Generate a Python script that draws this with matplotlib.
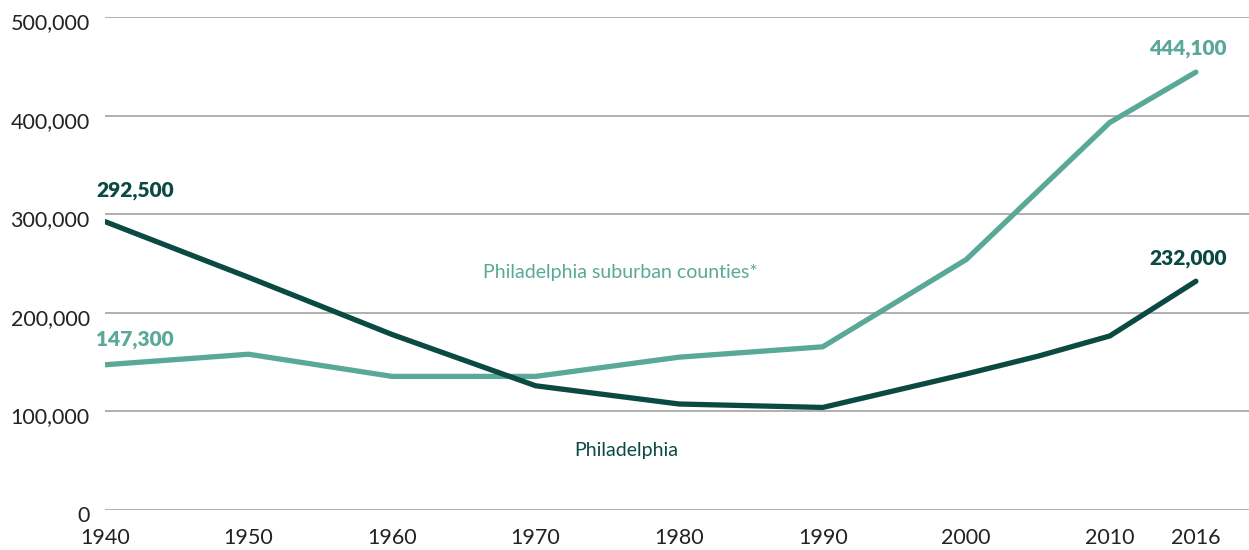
import matplotlib
matplotlib.use("Agg")
import matplotlib.pyplot as plt
from matplotlib.ticker import FuncFormatter
from matplotlib.transforms import ScaledTranslation

# data
years_phl = [1940, 1950, 1960, 1970, 1980, 1990, 2000, 2005, 2010, 2016]
philly = [292500, 236000, 178000, 126000, 107500, 104000, 138000, 156000, 176500, 232000]

years_sub = [1940, 1950, 1960, 1970, 1980, 1990, 2000, 2010, 2016]
suburbs = [147300, 158000, 135500, 135500, 155000, 165500, 254000, 393000, 444100]

xticks = [1940, 1950, 1960, 1970, 1980, 1990, 2000, 2010, 2016]
yticks = [0, 100000, 200000, 300000, 400000, 500000]

dark = "#0b4a42"
teal = "#5aa898"
grey_text = "#222222"

plt.rcParams['font.family'] = ['Lato', 'DejaVu Sans']

fig = plt.figure(figsize=(12.49, 5.5), dpi=100)
ax = fig.add_axes([105 / 1249, 40 / 550, 1 - 105 / 1249, 493 / 550])

ax.plot(years_sub, suburbs, color=teal, lw=3.8, solid_capstyle='round', solid_joinstyle='round', zorder=3)
ax.plot(years_phl, philly, color=dark, lw=3.8, solid_capstyle='round', solid_joinstyle='round', zorder=4)

ax.set_xlim(1940, 2019.7)
ax.set_ylim(0, 500000)
ax.set_yticks(yticks)
ax.set_xticks(xticks)
ax.yaxis.set_major_formatter(FuncFormatter(lambda v, p: f"{int(v):,}"))
ax.grid(axis='y', color='#9a9a9a', lw=1.1)
ax.set_axisbelow(True)
for s in ax.spines.values():
    s.set_visible(False)
ax.tick_params(length=0, labelsize=15.5, labelcolor=grey_text)
ax.tick_params(axis='y', pad=11)
ax.tick_params(axis='x', pad=13)
# y labels sit a little below their gridline
for t in ax.yaxis.get_major_ticks():
    t.label1.set_transform(t.label1.get_transform() + ScaledTranslation(0, -4 / 100, fig.dpi_scale_trans))

# end-point value labels
def endlabel(x, y, dx, dy, color):
    ax.annotate(f"{y:,}", (x, y), xytext=(dx, dy), textcoords='offset pixels',
                ha='center', va='center', fontsize=15, fontweight='heavy', color=color)

endlabel(years_phl[0], philly[0], 30, 31, dark)
endlabel(years_sub[0], suburbs[0], 30, 25, teal)
endlabel(years_sub[-1], suburbs[-1], -8, 24, teal)
endlabel(years_phl[-1], philly[-1], -8, 23, dark)

ax.text(1975.9, 241000, "Philadelphia suburban counties*", color=teal, fontsize=14,
        ha='center', va='center')
ax.text(1976.3, 60000, "Philadelphia", color=dark, fontsize=14, ha='center', va='center')

fig.savefig("out.png", dpi=100)
